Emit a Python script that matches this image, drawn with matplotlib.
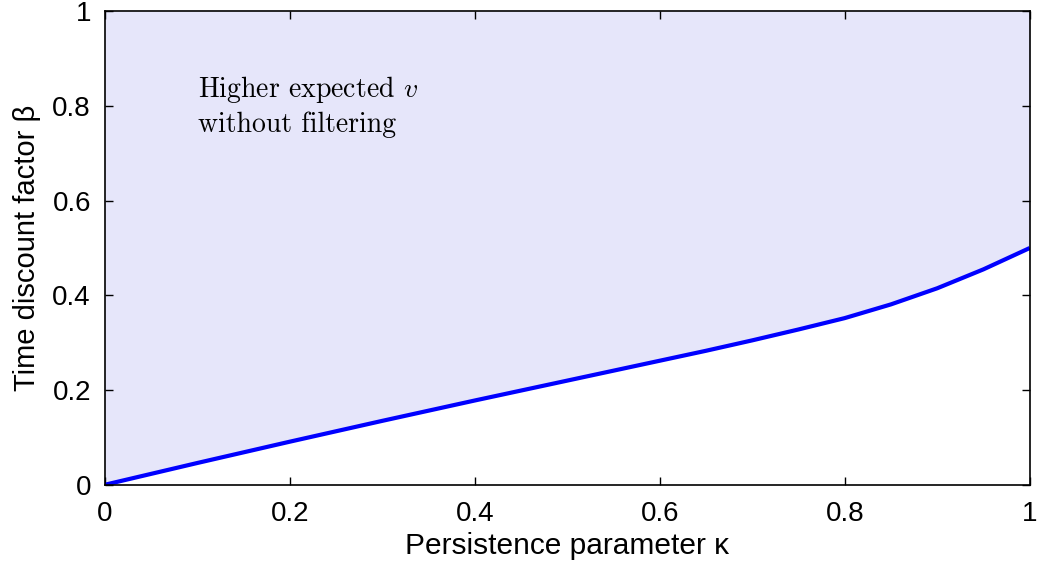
import matplotlib
matplotlib.use("Agg")
import matplotlib.pyplot as plt

kappa = [0.0, 0.1, 0.2, 0.3, 0.4, 0.5, 0.6, 0.65, 0.7, 0.75, 0.8, 0.85, 0.9, 0.95, 1.0]
beta = [0.0, 0.046, 0.091, 0.135, 0.178, 0.220, 0.262, 0.283, 0.305, 0.328, 0.352, 0.381, 0.415, 0.455, 0.500]
xticks = [0, 0.2, 0.4, 0.6, 0.8, 1]
yticks = [0, 0.2, 0.4, 0.6, 0.8, 1]
xtick_labels = ["0", "0.2", "0.4", "0.6", "0.8", "1"]
ytick_labels = ["0", "0.2", "0.4", "0.6", "0.8", "1"]

plt.rcParams['font.family'] = ['Liberation Sans', 'DejaVu Sans']
plt.rcParams['mathtext.fontset'] = 'cm'

fig = plt.figure(figsize=(10.38, 5.65), dpi=100)
ax = fig.add_axes([0.101, 0.142, 0.891, 0.838])

ax.fill_between(kappa, beta, 1, color='#E6E6FA', linewidth=0)
ax.plot(kappa, beta, color='#0000FF', linewidth=3.0, solid_capstyle='butt')

ax.set_xlim(0, 1)
ax.set_ylim(0, 1)
ax.set_xticks(xticks)
ax.set_xticklabels(xtick_labels)
ax.set_yticks(yticks)
ax.set_yticklabels(ytick_labels)
ax.tick_params(direction='in', length=6, width=1, labelsize=20, top=True, right=True)
ax.tick_params(axis='x', pad=12)
ax.tick_params(axis='y', pad=10)
for s in ax.spines.values():
    s.set_linewidth(1.2)
    s.set_color('black')

ax.set_xlabel('Persistence parameter \u03ba', fontsize=21.5, labelpad=3)
ax.set_ylabel('Time discount factor \u03b2', fontsize=21, labelpad=8)

ax.text(0.101, 0.868, 'Higher expected $v$\nwithout filtering', fontsize=20,
        family='cmr10', va='top', ha='left', linespacing=1.35)

fig.savefig('out.png', dpi=100)
